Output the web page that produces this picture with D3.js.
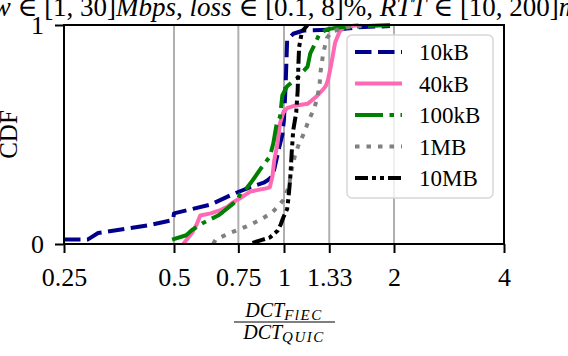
<!DOCTYPE html>
<html>

<head>
  <meta charset="utf-8">
  <title>dct-cdf</title>
  <style>
    * {
      padding: 0;
      margin: 0;
    }

    body {
      width: 568px;
      height: 356px;
      background: #fff;
      overflow: hidden;
    }

    svg text {
      font-family: "Liberation Serif", "DejaVu Serif", serif;
      fill: #000;
    }
  </style>
</head>

<body>
  <svg id="svg"></svg>
  <script src="https://cdnjs.cloudflare.com/ajax/libs/d3/7.8.5/d3.min.js"></script>
  <script>
    // values (x = DCT ratio, y = CDF)
    const seriesNames = ['10kB', '40kB', '100kB', '1MB', '10MB'];

    const ratio10kB = [0.25, 0.29, 0.31, 0.43, 0.497, 0.50, 0.63, 0.73, 0.81, 0.88, 0.90, 0.93, 0.94, 0.97, 0.99, 1.0, 1.01, 1.02, 1.06, 1.13, 1.42, 1.6, 1.95];
    const cdf10kB = [0.02, 0.02, 0.05, 0.087, 0.11, 0.14, 0.18, 0.23, 0.26, 0.28, 0.29, 0.31, 0.34, 0.44, 0.50, 0.57, 0.72, 0.93, 0.96, 0.975, 0.98, 0.99, 0.995];

    const ratio40kB = [0.53, 0.56, 0.577, 0.59, 0.63, 0.67, 0.70, 0.725, 0.76, 0.81, 0.90, 0.915, 0.93, 0.94, 0.96, 0.975, 0.995, 1.02, 1.06, 1.16, 1.22, 1.27, 1.30, 1.32, 1.35, 1.38, 1.42, 1.46, 1.6];
    const cdf40kB = [0.0, 0.05, 0.09, 0.13, 0.14, 0.155, 0.17, 0.19, 0.21, 0.24, 0.255, 0.26, 0.31, 0.38, 0.46, 0.55, 0.60, 0.62, 0.63, 0.64, 0.67, 0.70, 0.72, 0.75, 0.83, 0.92, 0.97, 0.99, 1.0];

    const ratio100kB = [0.494, 0.54, 0.56, 0.60, 0.66, 0.68, 0.72, 0.745, 0.76, 0.79, 0.82, 0.86, 0.915, 0.935, 0.955, 0.975, 0.99, 1.02, 1.09, 1.16, 1.18, 1.22, 1.25, 1.31, 1.42, 1.95];
    const cdf100kB = [0.02, 0.04, 0.064, 0.096, 0.13, 0.146, 0.18, 0.20, 0.23, 0.255, 0.29, 0.34, 0.40, 0.46, 0.55, 0.58, 0.68, 0.72, 0.76, 0.81, 0.87, 0.92, 0.96, 0.98, 0.99, 1.0];

    const ratio1MB = [0.64, 0.65, 0.71, 0.79, 0.86, 0.88, 0.93, 0.96, 0.995, 1.03, 1.05, 1.07, 1.10, 1.13, 1.16, 1.18, 1.21, 1.23, 1.25, 1.26, 1.28, 1.31, 1.35, 1.49, 1.7];
    const cdf1MB = [0.0, 0.02, 0.05, 0.08, 0.11, 0.12, 0.145, 0.17, 0.20, 0.26, 0.34, 0.40, 0.46, 0.50, 0.55, 0.58, 0.62, 0.66, 0.72, 0.79, 0.87, 0.94, 0.97, 0.99, 1.0];

    const ratio10MB = [0.82, 0.875, 0.915, 0.96, 0.98, 0.995, 1.02, 1.03, 1.04, 1.05, 1.06, 1.08, 1.09, 1.095, 1.10, 1.12, 1.16];
    const cdf10MB = [0.005, 0.02, 0.03, 0.06, 0.09, 0.12, 0.16, 0.22, 0.30, 0.42, 0.52, 0.60, 0.70, 0.82, 0.90, 0.97, 1.0];

    const xTicks = [0.25, 0.5, 0.75, 1, 1.33, 2, 4];
    const xTickLabels = ['0.25', '0.5', '0.75', '1', '1.33', '2', '4'];
    const yTicks = [0, 1];

    const dimension = {
      width: 568,
      height: 356,
      margin: { top: 25, right: 64, bottom: 112, left: 64 }
    };

    const styles = [
      { color: '#00008b', dash: '16.5,6.5' },
      { color: '#ff69b4', dash: null },
      { color: '#008000', dash: '28,6.5,4.5,6.5' },
      { color: '#808080', dash: '4.5,7' },
      { color: '#000000', dash: '13,4,4,4,4,4' }
    ];

    const seriesData = [
      d3.zip(ratio10kB, cdf10kB),
      d3.zip(ratio40kB, cdf40kB),
      d3.zip(ratio100kB, cdf100kB),
      d3.zip(ratio1MB, cdf1MB),
      d3.zip(ratio10MB, cdf10MB)
    ];

    const svg = d3.select('#svg').attr('width', dimension.width).attr('height', dimension.height);

    const x0 = dimension.margin.left, x1 = dimension.width - dimension.margin.right;
    const y0 = dimension.height - dimension.margin.bottom, y1 = dimension.margin.top;

    const xScale = d3.scaleLog().base(2).domain([0.25, 4]).range([x0, x1]);
    const yScale = d3.scaleLinear().domain([0, 1]).range([y0, y1]);

    // vertical grid
    svg.append('g')
      .selectAll('line')
      .data(xTicks)
      .enter()
      .append('line')
      .attr('x1', d => xScale(d))
      .attr('x2', d => xScale(d))
      .attr('y1', y1)
      .attr('y2', y0)
      .attr('stroke', '#b0b0b0')
      .attr('stroke-width', 2);

    const xAxis = d3.axisBottom(xScale)
      .tickValues(xTicks)
      .tickFormat((d, i) => xTickLabels[i])
      .tickSize(9)
      .tickPadding(15);

    const yAxis = d3.axisLeft(yScale)
      .tickValues(yTicks)
      .tickFormat(d3.format('d'))
      .tickSize(9)
      .tickPadding(11);

    const gx = svg.append('g')
      .attr('transform', `translate(0, ${y0})`)
      .call(xAxis);
    const gy = svg.append('g')
      .attr('transform', `translate(${x0}, 0)`)
      .call(yAxis);

    [gx, gy].forEach(g => {
      g.select('.domain').remove();
      g.selectAll('.tick line').attr('stroke', '#000').attr('stroke-width', 2);
      g.selectAll('.tick text')
        .style('font-family', '"Liberation Serif", serif')
        .style('font-size', '26px')
        .attr('fill', '#000');
    });
    gx.selectAll('.tick text').attr('dy', '0.71em');
    gy.selectAll('.tick text').attr('dy', '0.34em');

    // curves
    const line = d3.line()
      .x(d => xScale(d[0]))
      .y(d => yScale(d[1]));

    svg.append('g')
      .selectAll('path')
      .data(seriesData)
      .enter()
      .append('path')
      .attr('d', line)
      .attr('fill', 'none')
      .attr('stroke', (d, i) => styles[i].color)
      .attr('stroke-width', 4)
      .attr('stroke-dasharray', (d, i) => styles[i].dash)
      .attr('stroke-linejoin', 'round');

    // axes frame
    svg.append('rect')
      .attr('x', x0)
      .attr('y', y1)
      .attr('width', x1 - x0)
      .attr('height', y0 - y1)
      .attr('fill', 'none')
      .attr('stroke', '#000')
      .attr('stroke-width', 2);

    // legend
    const legend = svg.append('g');
    legend.append('rect')
      .attr('x', 347)
      .attr('y', 35)
      .attr('width', 146)
      .attr('height', 163)
      .attr('rx', 5)
      .attr('fill', 'rgba(255,255,255,0.8)')
      .attr('stroke', '#d6d6d6')
      .attr('stroke-width', 1.5);

    const rowY = d3.scaleLinear().domain([0, 4]).range([52, 178]);
    const items = legend.selectAll('.legend-item')
      .data(seriesNames)
      .enter()
      .append('g')
      .attr('class', 'legend-item')
      .attr('transform', (d, i) => `translate(0, ${rowY(i)})`);

    items.append('line')
      .attr('x1', 355)
      .attr('x2', 402)
      .attr('stroke', (d, i) => styles[i].color)
      .attr('stroke-width', 4)
      .attr('stroke-dasharray', (d, i) => styles[i].dash);

    items.append('text')
      .attr('x', 419)
      .attr('y', 8)
      .style('font-size', '23px')
      .text(d => d);

    // title (cut at the top like the original)
    const title = svg.append('text')
      .attr('x', (x0 + x1) / 2)
      .attr('y', 16)
      .attr('text-anchor', 'middle')
      .style('font-size', '27px');
    [['bw', true], [' ∈ [1, 30]', false], ['Mbps', true], [', ', false], ['loss', true],
     [' ∈ [0.1, 8]%, ', false], ['RTT', true], [' ∈ [10, 200]', false], ['ms', true]]
      .forEach(([t, it]) => {
        title.append('tspan').style('font-style', it ? 'italic' : 'normal').text(t);
      });

    // y label
    svg.append('text')
      .attr('transform', `translate(17, ${(y0 + y1) / 2}) rotate(-90)`)
      .attr('text-anchor', 'middle')
      .style('font-size', '25px')
      .text('CDF');

    // x label as a fraction
    const cx = (x0 + x1) / 2;
    const num = svg.append('text')
      .attr('x', cx)
      .attr('y', 317)
      .attr('text-anchor', 'middle')
      .style('font-size', '20px')
      .style('font-style', 'italic');
    num.append('tspan').text('DCT');
    num.append('tspan').attr('dy', 3).style('font-size', '15px').style('letter-spacing', '1.5px').text('FlEC');

    svg.append('line')
      .attr('x1', cx - 50)
      .attr('x2', cx + 51)
      .attr('y1', 322)
      .attr('y2', 322)
      .attr('stroke', '#000')
      .attr('stroke-width', 1);

    const den = svg.append('text')
      .attr('x', cx)
      .attr('y', 339)
      .attr('text-anchor', 'middle')
      .style('font-size', '20px')
      .style('font-style', 'italic');
    den.append('tspan').text('DCT');
    den.append('tspan').attr('dy', 3).style('font-size', '15px').style('letter-spacing', '1.5px').text('QUIC');
  </script>
</body>

</html>
